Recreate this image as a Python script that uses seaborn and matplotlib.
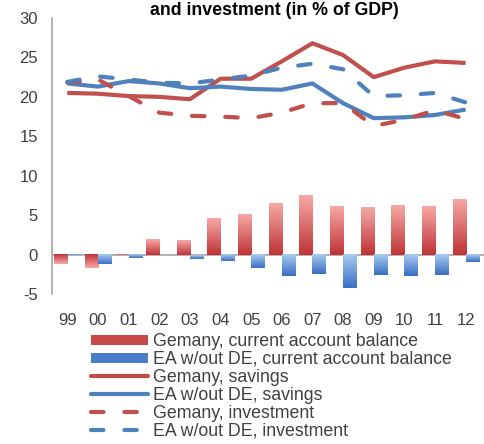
import numpy as np
import pandas as pd
import matplotlib
matplotlib.use("Agg")
import matplotlib.pyplot as plt
from matplotlib.lines import Line2D
from matplotlib.patches import Patch
from matplotlib.colors import LinearSegmentedColormap
import seaborn as sns

years = ["99", "00", "01", "02", "03", "04", "05", "06", "07", "08", "09", "10", "11", "12"]
de_cab = [-1.25, -1.7, -0.1, 2.0, 1.9, 4.6, 5.1, 6.5, 7.5, 6.1, 6.0, 6.3, 6.2, 7.0]
ea_cab = [-0.1, -1.25, -0.4, 0.0, -0.5, -0.8, -1.7, -2.7, -2.5, -4.3, -2.6, -2.7, -2.6, -1.0]
de_sav = [20.5, 20.4, 20.1, 20.0, 19.7, 22.3, 22.3, 24.5, 26.8, 25.3, 22.5, 23.7, 24.5, 24.3]
ea_sav = [21.7, 21.3, 22.0, 21.7, 21.1, 21.3, 21.0, 20.9, 21.7, 19.2, 17.3, 17.4, 17.7, 18.4]
de_inv = [21.8, 22.2, 20.1, 18.0, 17.6, 17.5, 17.3, 18.0, 19.2, 19.2, 16.3, 17.1, 18.3, 17.2]
ea_inv = [21.9, 22.6, 22.2, 21.8, 21.7, 22.2, 22.7, 23.7, 24.2, 23.5, 20.1, 20.2, 20.5, 19.3]
labels = ["Gemany, current account balance", "EA w/out DE, current account balance",
          "Gemany, savings", "EA w/out DE, savings",
          "Gemany, investment", "EA w/out DE, investment"]
title = "and investment (in % of GDP)"

RED = "#C0504D"
BLUE = "#4F81BD"
TXT = "#404040"

sns.set_theme(style="white")
plt.rcParams["font.family"] = ["Liberation Sans", "DejaVu Sans"]
plt.rcParams["axes.unicode_minus"] = False

fig = plt.figure(figsize=(4.84, 4.44), dpi=100)
ax = fig.add_axes([52/484, 1-294/444, 432/484, 276/444])

bars = pd.DataFrame({
    "year": years * 2,
    "value": de_cab + ea_cab,
    "series": [labels[0]] * len(years) + [labels[1]] * len(years),
})
sns.barplot(data=bars, x="year", y="value", hue="series", order=years,
            hue_order=labels[:2], palette=[RED, BLUE], width=0.85,
            legend=False, ax=ax, saturation=1)

# gradient fill for bars
red_cmap = LinearSegmentedColormap.from_list("r", ["#BE3436", "#F7A7A7"])
blue_cmap = LinearSegmentedColormap.from_list("b", ["#A9CBF2", "#3A6EC2"])
n = len(years)
for i, p in enumerate(ax.patches[:2*n]):
    x0, y0 = p.get_x(), p.get_y()
    w, h = p.get_width(), p.get_height()
    if w == 0 or h == 0:
        continue
    cmap = red_cmap if i < n else blue_cmap
    grad = np.linspace(0, 1, 64).reshape(-1, 1)
    if h >= 0:
        ext = [x0, x0 + w, 0, h]
        img = grad
    else:
        ext = [x0, x0 + w, h, 0]
        img = grad[::-1]
    ax.imshow(img, extent=ext, origin="lower", aspect="auto", cmap=cmap,
              vmin=0, vmax=1, zorder=2, interpolation="bilinear")
    p.set_visible(False)

lines = pd.DataFrame({
    "x": list(range(n)) * 4,
    "value": de_sav + ea_sav + de_inv + ea_inv,
    "series": sum([[l] * n for l in labels[2:]], []),
})
sns.lineplot(data=lines, x="x", y="value", hue="series", style="series",
             hue_order=labels[2:], style_order=labels[2:],
             palette=[RED, BLUE, RED, BLUE],
             dashes=["", "", (3, 5), (3, 5)], linewidth=3,
             legend=False, ax=ax, zorder=3)
for ln in ax.lines:
    ln.set_dash_capstyle("round")
    ln.set_solid_capstyle("butt")

ax.axhline(0, color="#A6A6A6", lw=1.2, zorder=1.5)
ax.set_xlim(-0.5, 13.6)
ax.set_ylim(-5, 30)
ax.set_yticks([-5, 0, 5, 10, 15, 20, 25, 30])
ax.set_xticks(range(n))
ax.set_xticklabels(years)
ax.set_xlabel("")
ax.set_ylabel("")
ax.tick_params(axis="x", length=0, pad=14, labelsize=12, colors=TXT)
ax.tick_params(axis="y", length=0, pad=10, labelsize=12, colors=TXT)
for s in ["top", "right", "bottom"]:
    ax.spines[s].set_visible(False)
ax.spines["left"].set_color("#A6A6A6")
ax.spines["left"].set_linewidth(1.2)

fig.text(0.567, 0.977, title, ha="center", va="center", fontsize=12.8,
         fontweight="bold", color="black")

handles = [
    Patch(facecolor="#C9494B", edgecolor="none"),
    Patch(facecolor="#4A7DC8", edgecolor="none"),
    Line2D([], [], color=RED, lw=3),
    Line2D([], [], color=BLUE, lw=3),
    Line2D([], [], color=RED, lw=3, linestyle=(0, (3, 5)), dash_capstyle="round"),
    Line2D([], [], color=BLUE, lw=3, linestyle=(0, (3, 5)), dash_capstyle="round"),
]
leg = fig.legend(handles, labels, loc="upper left", bbox_to_anchor=(91/484, 1-333/444),
                 frameon=False, fontsize=12.8, handlelength=3.2, handleheight=0.5,
                 handletextpad=0.3, labelspacing=0.05, borderpad=0, borderaxespad=0)
for t in leg.get_texts():
    t.set_color(TXT)

fig.savefig("out.png", dpi=100)
